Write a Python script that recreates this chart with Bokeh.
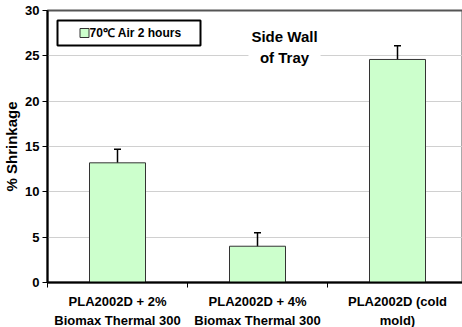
from bokeh.plotting import figure
from bokeh.models import (Range1d, FixedTicker, Whisker, ColumnDataSource, Label,
                          BoxAnnotation, TeeHead)
from bokeh.embed import file_html
from bokeh.resources import INLINE

categories = ["PLA2002D + 2%\nBiomax Thermal 300",
              "PLA2002D + 4%\nBiomax Thermal 300",
              "PLA2002D (cold\nmold)"]
shrinkage = [13.2, 4.0, 24.6]
err = [1.5, 1.5, 1.5]
y_ticks = [0, 5, 10, 15, 20, 25, 30]
legend_label = "70\u2103 Air 2 hours"
title_text = "Side Wall\nof Tray"

FONT = "Liberation Sans"
GREEN = "#CCFFCC"

xs = [i + 0.5 for i in range(len(categories))]
src = ColumnDataSource(dict(x=xs, top=shrinkage,
                            upper=[s + e for s, e in zip(shrinkage, err)],
                            lower=[s - e for s, e in zip(shrinkage, err)]))

p = figure(frame_width=416, frame_height=272, output_backend="svg", toolbar_location=None,
           x_range=Range1d(0, 416 / 140), y_range=Range1d(0, 30),
           min_border_left=46, min_border_right=0, min_border_top=10,
           min_border_bottom=0)
p.outline_line_color = "#555555"
p.outline_line_width = 2
p.background_fill_color = "white"

def dx(px):
    return (px - 46) / 140
def dy(py):
    return (282 - py) * 30 / 272

# legend box (drawn under the glyphs)
p.add_layout(BoxAnnotation(left=dx(56), right=dx(199), top=dy(20), bottom=dy(45),
                           fill_color="white", fill_alpha=1, line_color="black",
                           line_alpha=1, line_width=2, level="underlay"))

p.vbar(x="x", top="top", width=0.4, source=src, fill_color=GREEN,
       line_color="#333333", line_width=1)
p.add_layout(Whisker(base="x", upper="upper", lower="lower", source=src,
                     line_color="black", line_width=1.5,
                     upper_head=TeeHead(size=7, line_color="black", line_width=1.5),
                     lower_head=TeeHead(size=7, line_color="black", line_width=1.5)))

# axes
p.xaxis.ticker = FixedTicker(ticks=xs, minor_ticks=[0, 1, 2, 3])
p.xaxis.major_label_overrides = {x: c for x, c in zip(xs, categories)}
p.xaxis.major_tick_out = 0
p.xaxis.major_tick_in = 0
p.xaxis.minor_tick_out = 5
p.xaxis.minor_tick_in = 0
p.xaxis.minor_tick_line_color = "black"
p.xaxis.axis_line_color = "black"
p.xaxis.axis_line_width = 2
p.xaxis.major_label_standoff = 6
p.xaxis.major_label_text_font = FONT
p.xaxis.major_label_text_font_style = "bold"
p.xaxis.major_label_text_font_size = "13px"
p.xaxis.major_label_text_color = "black"
p.xaxis.major_label_text_line_height = 1.3

p.yaxis.ticker = FixedTicker(ticks=y_ticks)
p.yaxis.minor_tick_line_color = None
p.yaxis.major_tick_out = 5
p.yaxis.major_tick_in = 0
p.yaxis.major_tick_line_color = "black"
p.yaxis.axis_line_color = "black"
p.yaxis.axis_line_width = 2
p.yaxis.major_label_standoff = 3
p.yaxis.major_label_text_font = FONT
p.yaxis.major_label_text_font_style = "bold"
p.yaxis.major_label_text_font_size = "13px"
p.yaxis.major_label_text_color = "black"
p.yaxis.axis_label = "% Shrinkage"
p.yaxis.axis_label_text_font = FONT
p.yaxis.axis_label_text_font_style = "bold"
p.yaxis.axis_label_text_font_size = "15px"
p.yaxis.axis_label_text_color = "black"
p.yaxis.axis_label_standoff = 2

p.xgrid.grid_line_color = None
p.ygrid.grid_line_color = "#d0d0d0"
p.ygrid.grid_line_width = 1

p.scatter(x=[dx(83)], y=[dy(32.5)], marker="square", size=9, fill_color=GREEN,
          line_color="#333333", line_width=1)
p.add_layout(Label(x=dx(88), y=dy(32.5), text=legend_label, text_font=FONT,
                   text_font_style="bold", text_font_size="12px",
                   text_baseline="middle", text_align="left", text_color="black"))

p.add_layout(Label(x=dx(283), y=dy(24), text=title_text, text_font=FONT,
                   text_font_style="bold", text_font_size="15px",
                   text_baseline="top", text_align="center", text_color="black",
                   background_fill_color="white", background_fill_alpha=1,
                   padding=3, text_line_height=1.25))

open("out.html", "w").write(file_html(p, INLINE))
